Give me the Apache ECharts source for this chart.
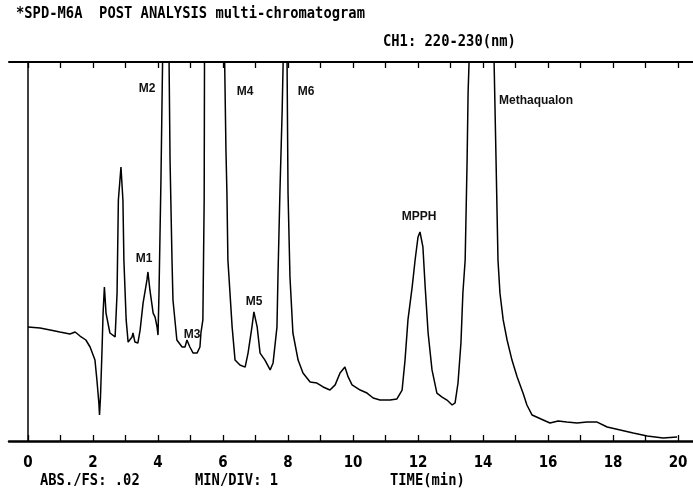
<!DOCTYPE html>
<html>
<head>
<meta charset="utf-8">
<script src="https://cdn.jsdelivr.net/npm/echarts@6/dist/echarts.min.js"></script>
<style>
  html, body { margin: 0; padding: 0; background: #fff; }
  #chart { width: 693px; height: 491px; }
</style>
</head>
<body>
<div id="chart"></div>
<script>
// retention time (min)
const times = [
  0.00, 0.37, 0.68, 0.98, 1.29, 1.45, 1.60, 1.78, 1.91, 2.06,
  2.12, 2.18, 2.20, 2.23, 2.28, 2.31, 2.35, 2.40, 2.52, 2.68,
  2.74, 2.78, 2.86, 2.92, 2.95, 3.02, 3.08, 3.20, 3.23, 3.29,
  3.38, 3.45, 3.54, 3.66, 3.69, 3.75, 3.85, 3.91, 3.97, 4.00,
  4.03, 4.09, 4.14, 4.23, 4.34, 4.37, 4.43, 4.46, 4.58, 4.74,
  4.83, 4.89, 4.98, 5.08, 5.20, 5.29, 5.32, 5.38, 5.42, 5.43,
  5.72, 6.05, 6.09, 6.12, 6.15, 6.28, 6.37, 6.52, 6.68, 6.77,
  6.89, 6.95, 7.05, 7.14, 7.29, 7.45, 7.54, 7.66, 7.69, 7.75,
  7.82, 7.85, 7.91, 7.97, 8.00, 8.06, 8.15, 8.31, 8.46, 8.68,
  8.89, 9.08, 9.29, 9.45, 9.60, 9.75, 9.85, 9.97, 10.22, 10.43,
  10.62, 10.83, 11.14, 11.35, 11.51, 11.60, 11.69, 11.82, 11.91, 12.00,
  12.06, 12.15, 12.22, 12.31, 12.43, 12.58, 12.74, 12.89, 13.05, 13.14,
  13.23, 13.32, 13.38, 13.45, 13.51, 13.54, 13.57, 13.95, 14.34, 14.40,
  14.46, 14.52, 14.62, 14.74, 14.89, 15.05, 15.23, 15.35, 15.51, 15.85,
  16.06, 16.31, 16.58, 16.89, 17.20, 17.51, 17.82, 18.22, 18.62, 19.05,
  19.54, 19.97
];
// absorbance in mAU (ABS./FS .02 = 20 mAU), values above 20 run off scale
const signal = [
  6.02, 5.96, 5.86, 5.75, 5.65, 5.75, 5.54, 5.33, 4.96, 4.27,
  3.22, 2.01, 1.37, 2.32, 4.96, 6.75, 8.13, 6.75, 5.70, 5.49,
  7.81, 12.72, 14.46, 12.72, 9.55, 6.39, 5.22, 5.49, 5.70, 5.22,
  5.17, 5.86, 7.28, 8.50, 8.92, 7.97, 6.75, 6.54, 6.02, 5.59,
  7.81, 13.77, 20.0, 40, 20.0, 14.83, 9.55, 7.44, 5.33, 4.96,
  4.96, 5.33, 4.96, 4.64, 4.64, 4.96, 5.70, 6.39, 12.72, 20,
  60, 20, 15.36, 13.09, 9.55, 6.02, 4.27, 4.01, 3.90, 4.64,
  6.02, 6.81, 6.02, 4.64, 4.27, 3.75, 4.12, 6.02, 8.65, 13.09,
  17.47, 20, 26, 20, 13.09, 8.65, 5.70, 4.27, 3.59, 3.11,
  3.06, 2.85, 2.69, 2.96, 3.59, 3.90, 3.38, 2.96, 2.69, 2.53,
  2.27, 2.16, 2.16, 2.22, 2.69, 4.27, 6.39, 8.13, 9.55, 10.77,
  11.03, 10.24, 8.13, 5.70, 3.75, 2.53, 2.32, 2.16, 1.90, 2.01,
  3.06, 5.17, 7.81, 9.55, 14.83, 18.36, 20, 80, 20, 14.83,
  9.55, 7.81, 6.39, 5.33, 4.27, 3.38, 2.53, 1.90, 1.37, 1.11,
  0.95, 1.06, 1.00, 0.95, 1.00, 1.00, 0.74, 0.58, 0.42, 0.26,
  0.16, 0.21
];
const tickLabels = [0, 2, 4, 6, 8, 10, 12, 14, 16, 18, 20];
const tickMarks = [0, 1, 2, 3, 4, 5, 6, 7, 8, 9, 10, 11, 12, 13, 14, 15, 16, 17, 18, 19, 20];
const peakNames = ['M1', 'M2', 'M3', 'M4', 'M5', 'M6', 'MPPH', 'Methaqualon'];

const chart = echarts.init(document.getElementById('chart'));

const monoFont = '"DejaVu Sans Mono", "Liberation Mono", monospace';
const labelFont = '"Liberation Sans", Arial, sans-serif';

// where the peak names sit (pixels)
const peakPos = [[144, 259], [147, 89], [192, 335], [245, 92], [254, 302], [306, 92], [419, 217], [536, 101]];

const headText = (txt, x, y) => ({
  type: 'text', left: x, top: y, scaleX: 0.92,
  style: { text: txt, font: 'bold 15px ' + monoFont, fill: '#000' }
});

const option = {
  backgroundColor: '#fff',
  animation: false,
  grid: { left: 9, right: 0, top: 62, bottom: 50 },
  xAxis: [
    {
      type: 'value', min: -0.585, max: 20.46, position: 'bottom',
      axisLine: { lineStyle: { color: '#000', width: 2.5 } },
      axisTick: { inside: true, length: 6, customValues: tickMarks, lineStyle: { color: '#000', width: 1.3 } },
      axisLabel: {
        customValues: tickLabels, margin: 15,
        fontFamily: '"Liberation Sans Narrow", "DejaVu Sans Condensed", sans-serif',
        fontWeight: 'bold', fontSize: 15, color: '#000'
      },
      splitLine: { show: false }
    },
    {
      type: 'value', min: -0.585, max: 20.46, position: 'top',
      axisLine: { lineStyle: { color: '#000', width: 2 } },
      axisTick: { inside: true, length: 6, customValues: tickMarks, lineStyle: { color: '#000', width: 1.3 } },
      axisLabel: { show: false },
      splitLine: { show: false }
    }
  ],
  yAxis: {
    type: 'value', min: 0, max: 20,
    axisLine: { show: true, lineStyle: { color: '#000', width: 1.5 } },
    axisTick: { show: false },
    axisLabel: { show: false },
    splitLine: { show: false }
  },
  series: [{
    type: 'line',
    data: times.map((t, i) => [t, signal[i]]),
    showSymbol: false,
    clip: true,
    lineStyle: { color: '#000', width: 1.5 }
  }],
  graphic: [
    headText('*SPD-M6A  POST ANALYSIS multi-chromatogram', 16, 7),
    headText('CH1: 220-230(nm)', 383, 35),
    headText('ABS./FS: .02', 40, 474),
    headText('MIN/DIV: 1', 195, 474),
    headText('TIME(min)', 390, 474)
  ].concat(peakNames.map((n, i) => ({
    type: 'text', x: peakPos[i][0], y: peakPos[i][1],
    style: {
      text: n, font: 'bold 12px ' + labelFont, fill: '#111',
      align: 'center', verticalAlign: 'middle'
    }
  })))
};

chart.setOption(option);
</script>
</body>
</html>
